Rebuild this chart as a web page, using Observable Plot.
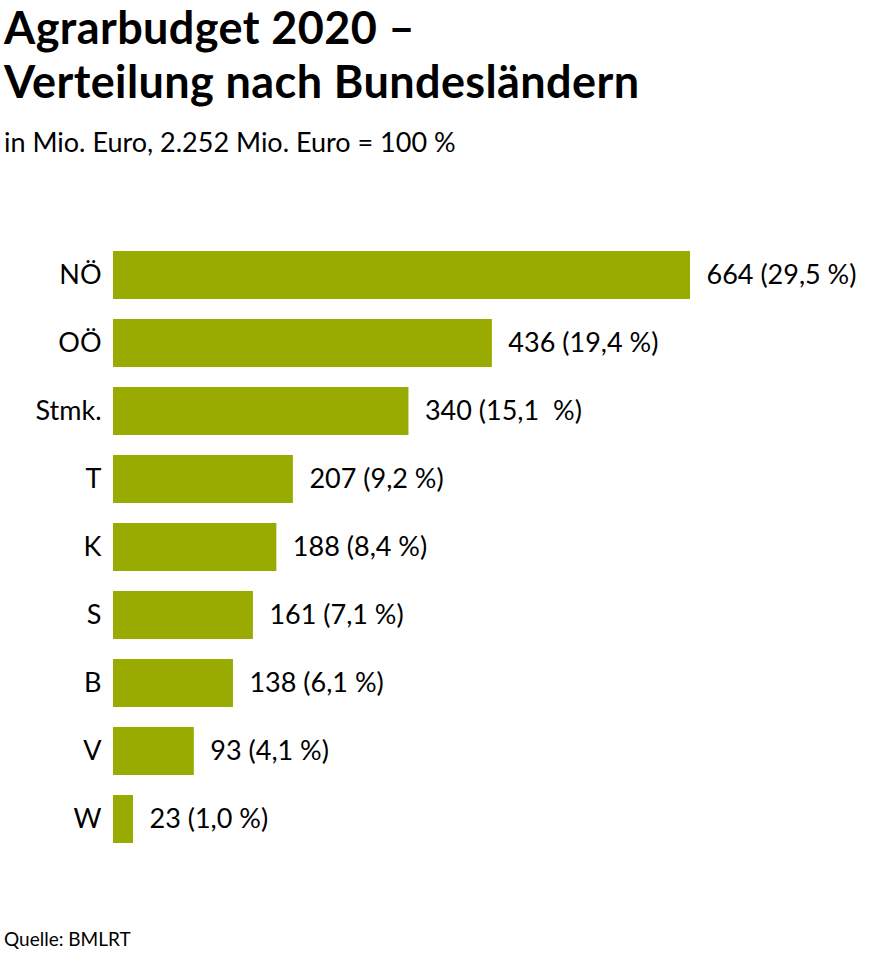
<!DOCTYPE html>
<html>
<head>
<meta charset="utf-8">
<script src="https://cdn.jsdelivr.net/npm/d3@7"></script>
<script src="https://cdn.jsdelivr.net/npm/@observablehq/plot@0.6"></script>
<style>
  body { margin: 0; background: #fff; font-family: Lato, "Noto Sans", sans-serif; color: #000; width: 871px; }
  #title { margin: 0 0 0 4px; font-size: 45px; font-weight: 700; line-height: 54px; letter-spacing: 0.4px; }
  #subtitle { margin: 18px 0 0 4px; font-size: 27px; line-height: 32px; }
  #chart { margin-top: 21px; }
  #chart svg { display: block; }
  #caption { margin: 48px 0 0 4px; font-size: 19px; line-height: 24px; }
  svg text { white-space: pre; }
</style>
</head>
<body>
<div id="title">Agrarbudget 2020 –<br>Verteilung nach Bundesländern</div>
<div id="subtitle">in Mio. Euro, 2.252 Mio. Euro = 100 %</div>
<div id="chart"></div>
<div id="caption">Quelle: BMLRT</div>
<script>
const states = ["NÖ", "OÖ", "Stmk.", "T", "K", "S", "B", "V", "W"];
const values = [664, 436, 340, 207, 188, 161, 138, 93, 23];
const labels = ["664 (29,5 %)", "436 (19,4 %)", "340 (15,1  %)", "207 (9,2 %)", "188 (8,4 %)", "161 (7,1 %)", "138 (6,1 %)", "93 (4,1 %)", "23 (1,0 %)"];

const data = states.map((s, i) => ({state: s, value: values[i], label: labels[i]}));

const chart = Plot.plot({
  width: 871,
  height: 700,
  marginTop: 50,
  marginBottom: 15,
  marginLeft: 113,
  marginRight: 181,
  style: {fontFamily: "Lato, 'Noto Sans', sans-serif", fontSize: "27px", color: "#000", background: "transparent", overflow: "visible"},
  x: {domain: [0, 664], axis: null},
  y: {domain: states, padding: 0.3, label: null, tickSize: 0, tickPadding: 12},
  marks: [
    Plot.barX(data, {x: "value", y: "state", fill: "#99aa00"}),
    Plot.text(data, {x: "value", y: "state", text: "label", textAnchor: "start", dx: 16, fill: "#000", fontSize: 27}),
    Plot.axisY({tickSize: 0, tickPadding: 12, fontSize: 27, label: null})
  ]
});
document.getElementById("chart").appendChild(chart);
</script>
</body>
</html>
